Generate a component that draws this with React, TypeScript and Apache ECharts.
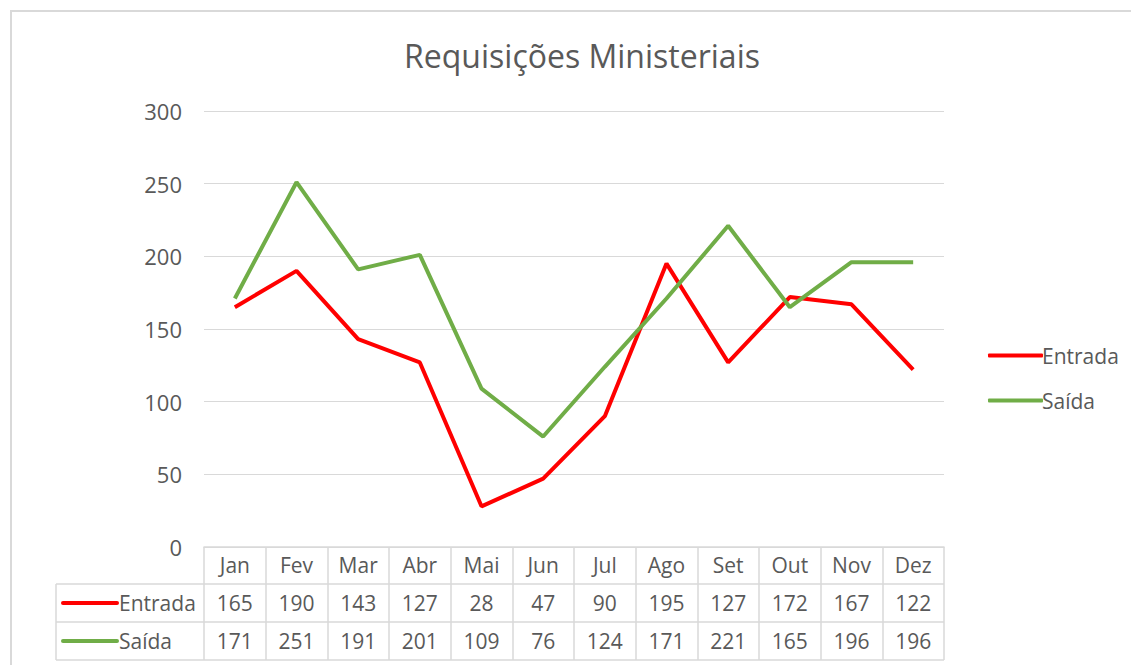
import React, { useEffect, useRef } from "react";
import * as echarts from "echarts";

const months = ["Jan", "Fev", "Mar", "Abr", "Mai", "Jun", "Jul", "Ago", "Set", "Out", "Nov", "Dez"];
const entrada = [165, 190, 143, 127, 28, 47, 90, 195, 127, 172, 167, 122];
const saida = [171, 251, 191, 201, 109, 76, 124, 171, 221, 165, 196, 196];
const yTicks = [0, 50, 100, 150, 200, 250, 300];

const FONT = "'Open Sans', Lato, sans-serif";
const TXT = "#595959";
const GRID_C = "#d9d9d9";
const RED = "#ff0000";
const GREEN = "#70ad47";
const FS = 21;

export default function App() {
  const ref = useRef<HTMLDivElement>(null);
  useEffect(() => {
    document.body.style.margin = "0";
    const chart = echarts.init(ref.current!, null, { renderer: "svg" });
    const gl = 204, gr = 944, gt = 111, gb = 547;
    const colW = (gr - gl) / months.length;
    const rowTops = [547, 584, 622, 660];
    const graphics: any[] = [
      { type: "rect", shape: { x: 11, y: 11, width: 1140, height: 700 }, style: { fill: "none", stroke: GRID_C, lineWidth: 2 }, silent: true },
    ];
    for (let i = 1; i < rowTops.length; i++) {
      graphics.push({ type: "line", shape: { x1: 56, y1: rowTops[i], x2: gr, y2: rowTops[i] }, style: { stroke: GRID_C, lineWidth: 1.5 } });
    }
    graphics.push({ type: "line", shape: { x1: 56, y1: rowTops[1], x2: 56, y2: rowTops[3] }, style: { stroke: GRID_C, lineWidth: 1.5 } });
    const rows = [
      { name: "Entrada", data: entrada, color: RED },
      { name: "Saída", data: saida, color: GREEN },
    ];
    rows.forEach((r, ri) => {
      const cy = (rowTops[ri + 1] + rowTops[ri + 2]) / 2;
      graphics.push({ type: "line", shape: { x1: 63, y1: cy, x2: 117, y2: cy }, style: { stroke: r.color, lineWidth: 4, lineCap: "round" } });
      graphics.push({ type: "text", x: 119, y: cy, style: { text: r.name, font: `${FS}px ${FONT}`, fill: TXT, textVerticalAlign: "middle", textAlign: "left" } });
      r.data.forEach((v, i) => {
        graphics.push({ type: "text", x: gl + colW * (i + 0.5), y: cy, style: { text: String(v), font: `${FS}px ${FONT}`, fill: TXT, textAlign: "center", textVerticalAlign: "middle" } });
      });
    });
    chart.setOption({
      animation: false,
      title: {
        text: "Requisições Ministeriais",
        left: 577, top: 34, textAlign: "center",
        textStyle: { fontFamily: FONT, fontSize: 32, fontWeight: "normal", color: TXT },
      },
      legend: {
        orient: "vertical", left: 983, top: 340, itemGap: 24,
        itemWidth: 55, itemHeight: 4,
        textStyle: { fontFamily: FONT, fontSize: FS, color: TXT, padding: [0, 0, 0, -6] },
        data: [
          { name: "Entrada", icon: "roundRect" },
          { name: "Saída", icon: "roundRect" },
        ],
      },
      grid: { left: gl, right: 1131 - gr, top: gt, bottom: 665 - gb },
      xAxis: {
        type: "category", data: months, boundaryGap: true,
        axisLine: { lineStyle: { color: GRID_C, width: 1.5 } },
        axisTick: { show: true, length: rowTops[3] - gb, lineStyle: { color: GRID_C, width: 1.5 } },
        axisLabel: { margin: 7, fontFamily: FONT, fontSize: FS, color: TXT },
      },
      yAxis: {
        type: "value", min: 0, max: 300, interval: 50,
        axisLine: { show: false }, axisTick: { show: false },
        splitLine: { lineStyle: { color: GRID_C, width: 1 } },
        axisLabel: { margin: 22, fontFamily: FONT, fontSize: 22, color: TXT,
          formatter: (v: number) => (yTicks.includes(v) ? String(v) : "") },
      },
      series: [
        { name: "Entrada", type: "line", data: entrada, symbol: "none", lineStyle: { color: RED, width: 4 }, itemStyle: { color: RED } },
        { name: "Saída", type: "line", data: saida, symbol: "none", lineStyle: { color: GREEN, width: 4 }, itemStyle: { color: GREEN } },
      ],
      graphic: graphics,
    });
    return () => chart.dispose();
  }, []);
  return <div ref={ref} style={{ width: 1131, height: 665 }} />;
}
